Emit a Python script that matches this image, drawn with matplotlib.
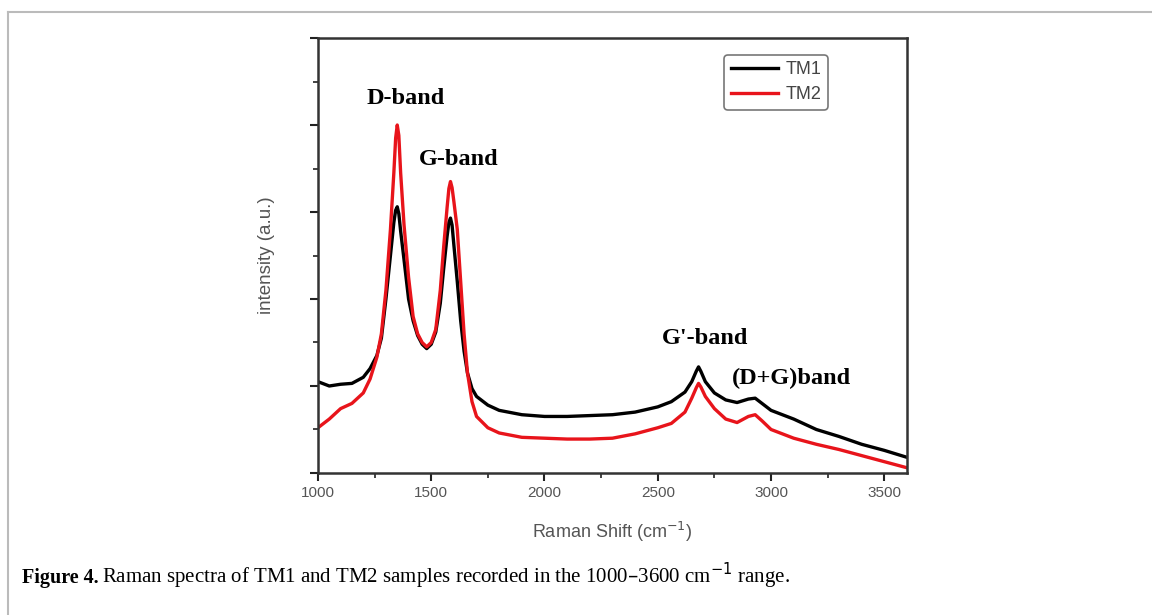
import matplotlib
matplotlib.use("Agg")
import matplotlib.pyplot as plt
from matplotlib.lines import Line2D
from matplotlib.ticker import MultipleLocator

# Raman shift grid (cm^-1) and intensities
shift = [1000, 1050, 1100, 1150, 1200, 1230, 1260, 1280, 1300, 1320, 1335, 1343,
         1350, 1357, 1365, 1380, 1400, 1420, 1440, 1460, 1480, 1500, 1520, 1540,
         1555, 1570, 1578, 1585, 1592, 1600, 1615, 1630, 1645, 1660, 1680, 1700,
         1750, 1800, 1900, 2000, 2100, 2200, 2300, 2400, 2500, 2560, 2620, 2650,
         2670, 2680, 2690, 2710, 2750, 2800, 2850, 2900, 2930, 2960, 3000, 3100,
         3200, 3300, 3400, 3500, 3600]

tm1 = [1.05, 1.00, 1.02, 1.03, 1.10, 1.20, 1.35, 1.55, 2.00, 2.50, 2.88, 3.02,
       3.06, 2.98, 2.78, 2.45, 2.00, 1.75, 1.58, 1.48, 1.43, 1.48, 1.62, 1.95,
       2.35, 2.72, 2.88, 2.93, 2.85, 2.62, 2.20, 1.75, 1.40, 1.15, 0.97, 0.88,
       0.78, 0.72, 0.67, 0.65, 0.65, 0.66, 0.67, 0.70, 0.76, 0.82, 0.93, 1.05,
       1.17, 1.22, 1.17, 1.05, 0.92, 0.84, 0.81, 0.85, 0.86, 0.80, 0.72, 0.62,
       0.50, 0.42, 0.33, 0.26, 0.18]

tm2 = [0.52, 0.62, 0.74, 0.80, 0.92, 1.08, 1.33, 1.60, 2.10, 2.80, 3.45, 3.85,
       4.00, 3.88, 3.45, 2.85, 2.25, 1.80, 1.60, 1.50, 1.45, 1.50, 1.65, 2.10,
       2.60, 3.05, 3.27, 3.35, 3.28, 3.12, 2.80, 2.20, 1.60, 1.15, 0.82, 0.65,
       0.52, 0.46, 0.41, 0.40, 0.39, 0.39, 0.40, 0.45, 0.52, 0.57, 0.70, 0.86,
       0.98, 1.03, 0.99, 0.88, 0.74, 0.62, 0.58, 0.65, 0.67, 0.60, 0.50, 0.40,
       0.33, 0.27, 0.20, 0.13, 0.06]

band_labels = ["D-band", "G-band", "G'-band", "(D+G)band"]
band_pos = [(1388, 4.30), (1622, 3.60), (2708, 1.55), (3092, 1.09)]

fig = plt.figure(figsize=(11.52, 6.15), dpi=100)
ax = fig.add_axes([0.276, 0.2309, 0.5113, 0.7073])

ax.plot(shift, tm1, color="black", lw=2.4, label="TM1")
ax.plot(shift, tm2, color="#e8141b", lw=2.4, label="TM2")

ax.set_xlim(1000, 3600)
ax.set_ylim(0, 5)
ax.xaxis.set_major_locator(MultipleLocator(500))
ax.xaxis.set_minor_locator(MultipleLocator(250))
ax.yaxis.set_major_locator(MultipleLocator(1))
ax.yaxis.set_minor_locator(MultipleLocator(0.5))
ax.tick_params(which="major", direction="out", length=6, width=1.5, color="#222222",
               labelsize=11, labelcolor="#555555")
ax.tick_params(which="minor", direction="out", length=3.5, width=1.2, color="#222222")
ax.tick_params(axis="y", labelleft=False)
for sp in ax.spines.values():
    sp.set_linewidth(1.8)
    sp.set_color("#333333")

ax.set_xlabel("Raman Shift (cm$^{-1}$)", fontsize=13, color="#555555",
              family="Liberation Sans", labelpad=14)
ax.set_ylabel("intensity (a.u.)", fontsize=13.5, color="#555555",
              family="Liberation Sans", labelpad=24)
for lab in ax.get_xticklabels():
    lab.set_family("Liberation Sans")

for text, (xp, yp) in zip(band_labels, band_pos):
    ax.text(xp, yp, text, ha="center", va="center", fontsize=17.5,
            fontweight="bold", family="Liberation Serif")

leg = ax.legend(loc="upper right", bbox_to_anchor=(0.866, 0.961),
                prop={"family": "Liberation Sans", "size": 13},
                handlelength=2.6, handletextpad=0.45, borderpad=0.35,
                labelspacing=0.45, fancybox=True, framealpha=1, borderaxespad=0)
leg.get_frame().set_edgecolor("#777777")
leg.get_frame().set_linewidth(1.2)
for t in leg.get_texts():
    t.set_color("#444444")

# caption
fig.text(0.019, 0.052, "Figure 4.", fontsize=14.5, fontweight="bold",
         family="Liberation Serif", va="baseline")
fig.text(0.0885, 0.052,
         "Raman spectra of TM1 and TM2 samples recorded in the 1000\u20133600 cm$^{-1}$ range.",
         fontsize=15, family="Liberation Serif", va="baseline")

# page frame (top and left edges)
fig.add_artist(Line2D([0.007, 1.0], [0.980, 0.980], transform=fig.transFigure,
                      color="#bbbbbb", lw=1.5))
fig.add_artist(Line2D([0.007, 0.007], [0.0, 0.980], transform=fig.transFigure,
                      color="#bbbbbb", lw=1.5))

fig.savefig("out.png", dpi=100, facecolor="white")
